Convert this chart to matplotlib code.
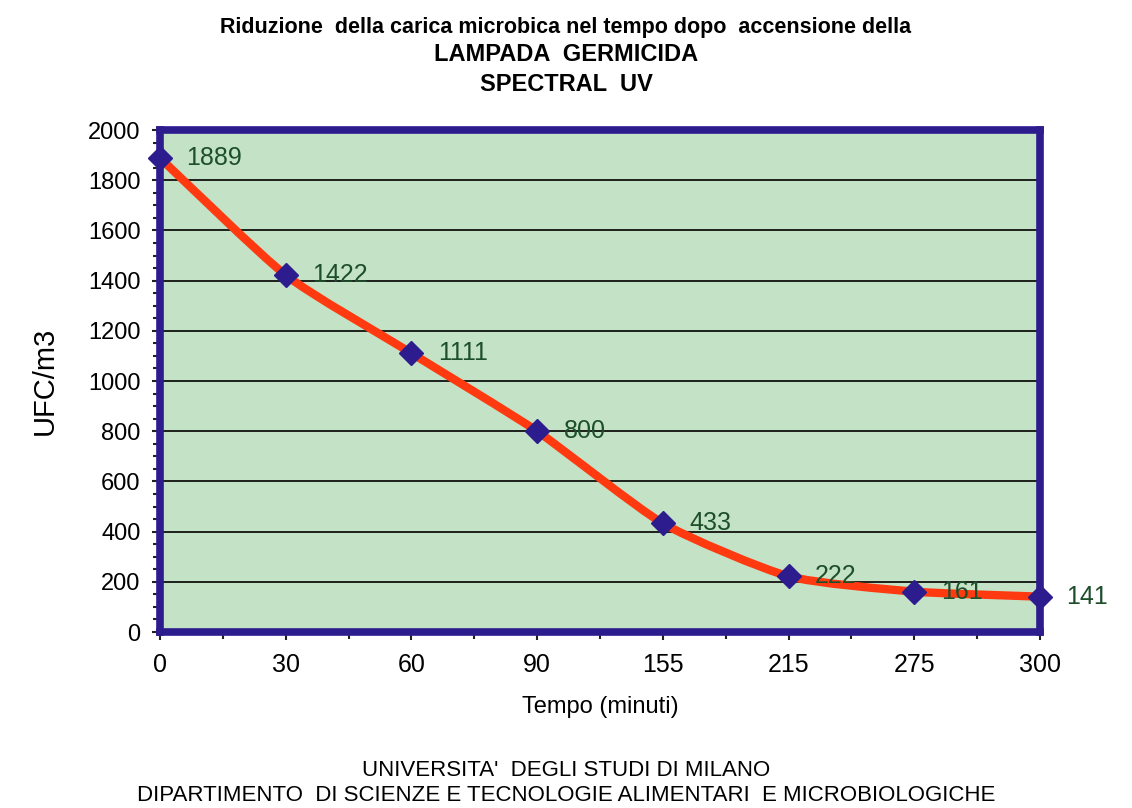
import matplotlib.pyplot as plt
from matplotlib.path import Path
from matplotlib.patches import PathPatch
from matplotlib.ticker import MultipleLocator
import numpy as np

# data
tempo = ["0", "30", "60", "90", "155", "215", "275", "300"]
ufc = [1889, 1422, 1111, 800, 433, 222, 161, 141]

title_1 = "Riduzione  della carica microbica nel tempo dopo  accensione della"
title_2 = "LAMPADA  GERMICIDA"
title_3 = "SPECTRAL  UV"
footer_1 = "UNIVERSITA'  DEGLI STUDI DI MILANO"
footer_2 = "DIPARTIMENTO  DI SCIENZE E TECNOLOGIE ALIMENTARI  E MICROBIOLOGICHE"

plain = ["Liberation Sans", "DejaVu Sans"]

navy = "#2d1c8e"
green_bg = "#c4e2c5"
red = "#ff3a10"
label_col = "#1d4f2b"

fig = plt.figure(figsize=(11.32, 8.08), dpi=100)
ax = fig.add_axes([0.1413, 0.2178, 0.7774, 0.6213])
ax.set_facecolor(green_bg)

x = np.arange(len(tempo))
y = np.array(ufc, dtype=float)


def smooth_path(px, py, t=0.1):
    # smoothed line like the spreadsheet one: cubic bezier through every point
    verts = [(px[0], py[0])]
    codes = [Path.MOVETO]
    n = len(px)
    for i in range(n - 1):
        p0 = (px[max(i - 1, 0)], py[max(i - 1, 0)])
        p1 = (px[i], py[i])
        p2 = (px[i + 1], py[i + 1])
        p3 = (px[min(i + 2, n - 1)], py[min(i + 2, n - 1)])
        c1 = (p1[0] + (p2[0] - p0[0]) * t, p1[1] + (p2[1] - p0[1]) * t)
        c2 = (p2[0] - (p3[0] - p1[0]) * t, p2[1] - (p3[1] - p1[1]) * t)
        verts += [c1, c2, p2]
        codes += [Path.CURVE4] * 3
    return Path(verts, codes)


ax.add_patch(PathPatch(smooth_path(x, y), facecolor="none", edgecolor=red,
                       lw=6, capstyle="round", joinstyle="round", zorder=3,
                       clip_on=False))
ax.plot(x, y, linestyle="none", marker="D", markersize=12, color=navy,
        zorder=4, clip_on=False)

for xi, yi in zip(x, y):
    ax.annotate(str(int(yi)), (xi, yi), xytext=(19, 0), textcoords="offset points",
                ha="left", va="center", fontsize=18, color=label_col,
                family=plain, zorder=5, annotation_clip=False)

ax.set_xlim(0, len(tempo) - 1)
ax.set_ylim(0, 2000)
ax.set_xticks(x)
ax.set_xticklabels(tempo, family=plain, fontsize=18)
ax.xaxis.set_minor_locator(MultipleLocator(0.5))
ax.yaxis.set_major_locator(MultipleLocator(200))
ax.yaxis.set_minor_locator(MultipleLocator(50))
for lab in ax.get_yticklabels():
    lab.set_family(plain)
ax.tick_params(axis="y", which="major", labelsize=17, length=6, width=1.5,
               color="#222222", pad=8)
ax.tick_params(axis="y", which="minor", length=5, width=1.5, color="#222222")
ax.tick_params(axis="x", which="major", length=6, width=1.5, color="#222222",
               pad=9)
ax.tick_params(axis="x", which="minor", length=5, width=1.5, color="#222222")

ax.yaxis.grid(True, color="black", lw=1.2)
ax.set_axisbelow(True)
for sp in ax.spines.values():
    sp.set_color(navy)
    sp.set_linewidth(5.5)

ax.set_ylabel("UFC/m3", fontsize=21, family=plain)
ax.yaxis.set_label_coords(-0.115, 0.5)
ax.set_xlabel("Tempo (minuti)", fontsize=17, family=plain, va="top")
ax.xaxis.set_label_coords(0.5, -0.128)

fig.text(0.5, 0.966, title_1, ha="center", va="center", fontsize=15.5,
         weight="bold", family=plain)
fig.text(0.5, 0.932, title_2, ha="center", va="center", fontsize=17,
         weight="bold", family=plain)
fig.text(0.5, 0.895, title_3, ha="center", va="center", fontsize=17,
         weight="bold", family=plain)
fig.text(0.5, 0.046, footer_1, ha="center", va="center", fontsize=16,
         family=plain)
fig.text(0.5, 0.016, footer_2, ha="center", va="center", fontsize=16,
         family=plain)

fig.savefig("out.png", dpi=100, facecolor="white")
